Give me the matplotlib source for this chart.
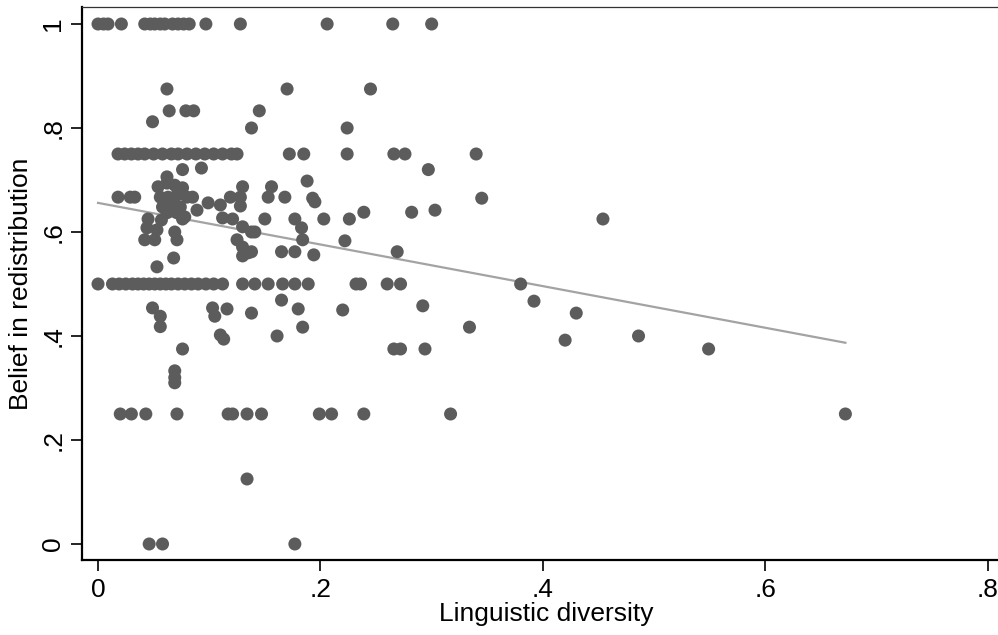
import matplotlib
matplotlib.use('Agg')
import matplotlib.pyplot as plt

# data (x = linguistic diversity, y = belief in redistribution)
diversity = [
    # y = 1
    0.0, 0.005, 0.009, 0.021, 0.042, 0.047, 0.051, 0.056, 0.060, 0.067, 0.072, 0.077, 0.082,
    0.097, 0.128, 0.206, 0.265, 0.300,
    # upper
    0.062, 0.170, 0.245, 0.064, 0.079, 0.086, 0.145, 0.049, 0.138, 0.224,
    # y = .75
    0.018, 0.024, 0.030, 0.036, 0.042, 0.050, 0.058, 0.066, 0.072, 0.080, 0.088, 0.096, 0.104,
    0.112, 0.120, 0.125, 0.172, 0.185, 0.224, 0.266, 0.276, 0.340,
    # .7 - .53
    0.076, 0.093, 0.297, 0.062, 0.188,
    0.054, 0.062, 0.069, 0.076, 0.130, 0.156,
    0.018, 0.029, 0.033, 0.056, 0.063, 0.071, 0.080, 0.085, 0.119, 0.128, 0.153, 0.168, 0.193,
    0.195, 0.345,
    0.058, 0.067, 0.074, 0.099, 0.110, 0.128,
    0.062, 0.071, 0.078, 0.089, 0.239, 0.282, 0.303,
    0.045, 0.057, 0.076, 0.112, 0.121, 0.150, 0.177, 0.203, 0.226, 0.454,
    0.044, 0.053, 0.069, 0.130, 0.138, 0.141, 0.183,
    0.042, 0.051, 0.071, 0.125, 0.184, 0.222,
    0.068, 0.130, 0.130, 0.135, 0.138, 0.165, 0.177, 0.194, 0.269,
    0.053,
    # y = .5
    0.0, 0.013, 0.019, 0.025, 0.031, 0.036, 0.041, 0.046, 0.051, 0.056, 0.061, 0.066, 0.072,
    0.078, 0.084, 0.090, 0.097, 0.104, 0.112, 0.130, 0.141, 0.153, 0.166, 0.177, 0.189,
    0.232, 0.236, 0.260, 0.272, 0.380,
    # .47 - .31
    0.165, 0.392, 0.049, 0.103, 0.116, 0.180, 0.220, 0.292, 0.430, 0.056, 0.105, 0.138,
    0.056, 0.184, 0.334, 0.110, 0.113, 0.161, 0.420, 0.486,
    0.076, 0.266, 0.272, 0.294, 0.549, 0.069, 0.069, 0.069,
    # y = .25 and below
    0.020, 0.030, 0.043, 0.071, 0.117, 0.121, 0.134, 0.147, 0.199, 0.210, 0.239, 0.317, 0.672,
    0.134, 0.046, 0.058, 0.177,
]
belief = [
    1, 1, 1, 1, 1, 1, 1, 1, 1, 1, 1, 1, 1,
    1, 1, 1, 1, 1,
    0.875, 0.875, 0.875, 0.833, 0.833, 0.833, 0.833, 0.812, 0.8, 0.8,
    0.75, 0.75, 0.75, 0.75, 0.75, 0.75, 0.75, 0.75, 0.75, 0.75, 0.75, 0.75, 0.75,
    0.75, 0.75, 0.75, 0.75, 0.75, 0.75, 0.75, 0.75, 0.75,
    0.72, 0.723, 0.72, 0.706, 0.698,
    0.687, 0.694, 0.69, 0.685, 0.687, 0.687,
    0.667, 0.667, 0.667, 0.667, 0.667, 0.671, 0.667, 0.667, 0.667, 0.667, 0.667, 0.667, 0.665,
    0.658, 0.665,
    0.648, 0.652, 0.648, 0.656, 0.652, 0.65,
    0.637, 0.637, 0.629, 0.642, 0.638, 0.638, 0.642,
    0.625, 0.623, 0.625, 0.627, 0.625, 0.625, 0.625, 0.625, 0.625, 0.625,
    0.608, 0.604, 0.6, 0.61, 0.6, 0.6, 0.608,
    0.585, 0.585, 0.585, 0.585, 0.585, 0.583,
    0.55, 0.571, 0.554, 0.56, 0.562, 0.562, 0.562, 0.556, 0.562,
    0.533,
    0.5, 0.5, 0.5, 0.5, 0.5, 0.5, 0.5, 0.5, 0.5, 0.5, 0.5, 0.5, 0.5,
    0.5, 0.5, 0.5, 0.5, 0.5, 0.5, 0.5, 0.5, 0.5, 0.5, 0.5, 0.5,
    0.5, 0.5, 0.5, 0.5, 0.5,
    0.469, 0.467, 0.454, 0.454, 0.452, 0.452, 0.45, 0.458, 0.444, 0.438, 0.438, 0.444,
    0.418, 0.417, 0.417, 0.402, 0.394, 0.4, 0.392, 0.4,
    0.375, 0.375, 0.375, 0.375, 0.375, 0.333, 0.32, 0.31,
    0.25, 0.25, 0.25, 0.25, 0.25, 0.25, 0.25, 0.25, 0.25, 0.25, 0.25, 0.25, 0.25,
    0.125, 0, 0, 0,
]

# fitted line endpoints
fit_x = [0.0, 0.672]
fit_y = [0.656, 0.387]

xticks = [0, 0.2, 0.4, 0.6, 0.8]
xtick_labels = ['0', '.2', '.4', '.6', '.8']
yticks = [0, 0.2, 0.4, 0.6, 0.8, 1]
ytick_labels = ['0', '.2', '.4', '.6', '.8', '1']

plt.rcParams['font.family'] = ['Liberation Sans', 'DejaVu Sans']

W, H = 998, 635
fig = plt.figure(figsize=(W / 100, H / 100), dpi=100)
ax = fig.add_axes([82 / W, 75 / H, (1010 - 82) / W, (560 - 7) / H])

ax.scatter(diversity, belief, s=88, color='#5c5c5c', edgecolors='none', zorder=3)
ax.plot(fit_x, fit_y, color='#a3a3a3', lw=1.6, zorder=2)

ax.set_xlim(-0.0144, 0.82)
ax.set_ylim(-0.0308, 1.0327)

ax.set_xticks(xticks)
ax.set_xticklabels(xtick_labels)
ax.set_yticks(yticks)
ax.set_yticklabels(ytick_labels, rotation=90, va='center')

ax.tick_params(direction='out', length=8, width=1.2, labelsize=19, colors='black')
ax.tick_params(axis='x', pad=5)
ax.tick_params(axis='y', pad=4)

for side in ['left', 'bottom']:
    ax.spines[side].set_linewidth(1.6)
ax.spines['top'].set_linewidth(0.9)
ax.spines['top'].set_color('#333333')

ax.set_xlabel('Linguistic diversity', fontsize=19, labelpad=0)
ax.set_ylabel('Belief in redistribution', fontsize=19, labelpad=6)

fig.savefig('out.png', dpi=100)
